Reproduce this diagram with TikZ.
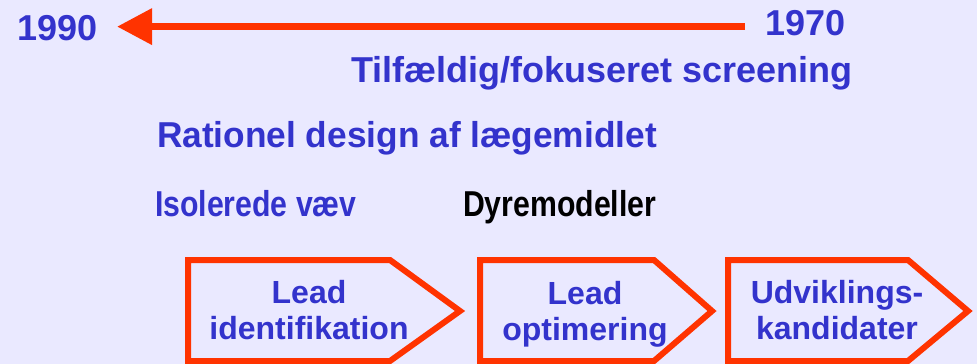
\documentclass[tikz,border=0pt]{standalone}
\usepackage{fontspec}
\setmainfont{Liberation Sans}
\definecolor{slideblue}{RGB}{51,51,204}
\definecolor{slidered}{RGB}{255,51,0}
\definecolor{slidebg}{RGB}{234,233,255}
\usepackage{tikz}
\usetikzlibrary{arrows.meta}

\begin{document}
\begin{tikzpicture}[x=1pt, y=-1pt,
  every node/.style={inner sep=0pt, outer sep=0pt, text=slideblue,
                     font=\bfseries\fontsize{36}{43}\selectfont},
  stagebox/.style={draw=slidered, line width=6pt, line join=miter},
  stagetext/.style={align=center, font=\bfseries\fontsize{32}{36}\selectfont},
]

% Slide background
\fill[slidebg] (0,0) rectangle (977,364);
\useasboundingbox (0,0) rectangle (977,364);

% Time axis: 1970 -> 1990
\node[anchor=base west] (y1990) at (17,40) {1990};
\node[anchor=base west] (y1970) at (765,35) {1970};
\draw[slidered, line width=7pt, -{Triangle[length=35pt,width=35pt]}]
      ([xshift=-20pt,yshift=-4pt]y1970.west) -- ([xshift=20pt,yshift=1pt]y1990.east);

% Approaches
\node[anchor=base west] (screening) at (351,82) {Tilfældig/fokuseret screening};
\node[anchor=base west] (rational) at (157,147) {\scalebox{0.98}[1]{Rationel design af lægemidlet}};
\node[anchor=base west] (tissue) at (155,216) {\scalebox{0.84}[1]{Isolerede væv}};
\node[anchor=base west, text=black] (animal) at (463,216) {\scalebox{0.84}[1]{Dyremodeller}};

% Pipeline stages
\draw[stagebox] (188,260) -- (390,260) -- (460,311) -- (390,361) -- (188,361) -- cycle;
\draw[stagebox] (480,260) -- (654,260) -- (712,311) -- (654,361) -- (480,361) -- cycle;
\draw[stagebox] (728,260) -- (908,260) -- (968,311) -- (908,361) -- (728,361) -- cycle;

\node[stagetext] (leadid) at (309,310) {Lead\\identifikation};
\node[stagetext] (leadopt) at (585,314) {Lead\\optimering};
\node[stagetext] (candidates) at (837,310) {Udviklings-\\kandidater};

\end{tikzpicture}
\end{document}
